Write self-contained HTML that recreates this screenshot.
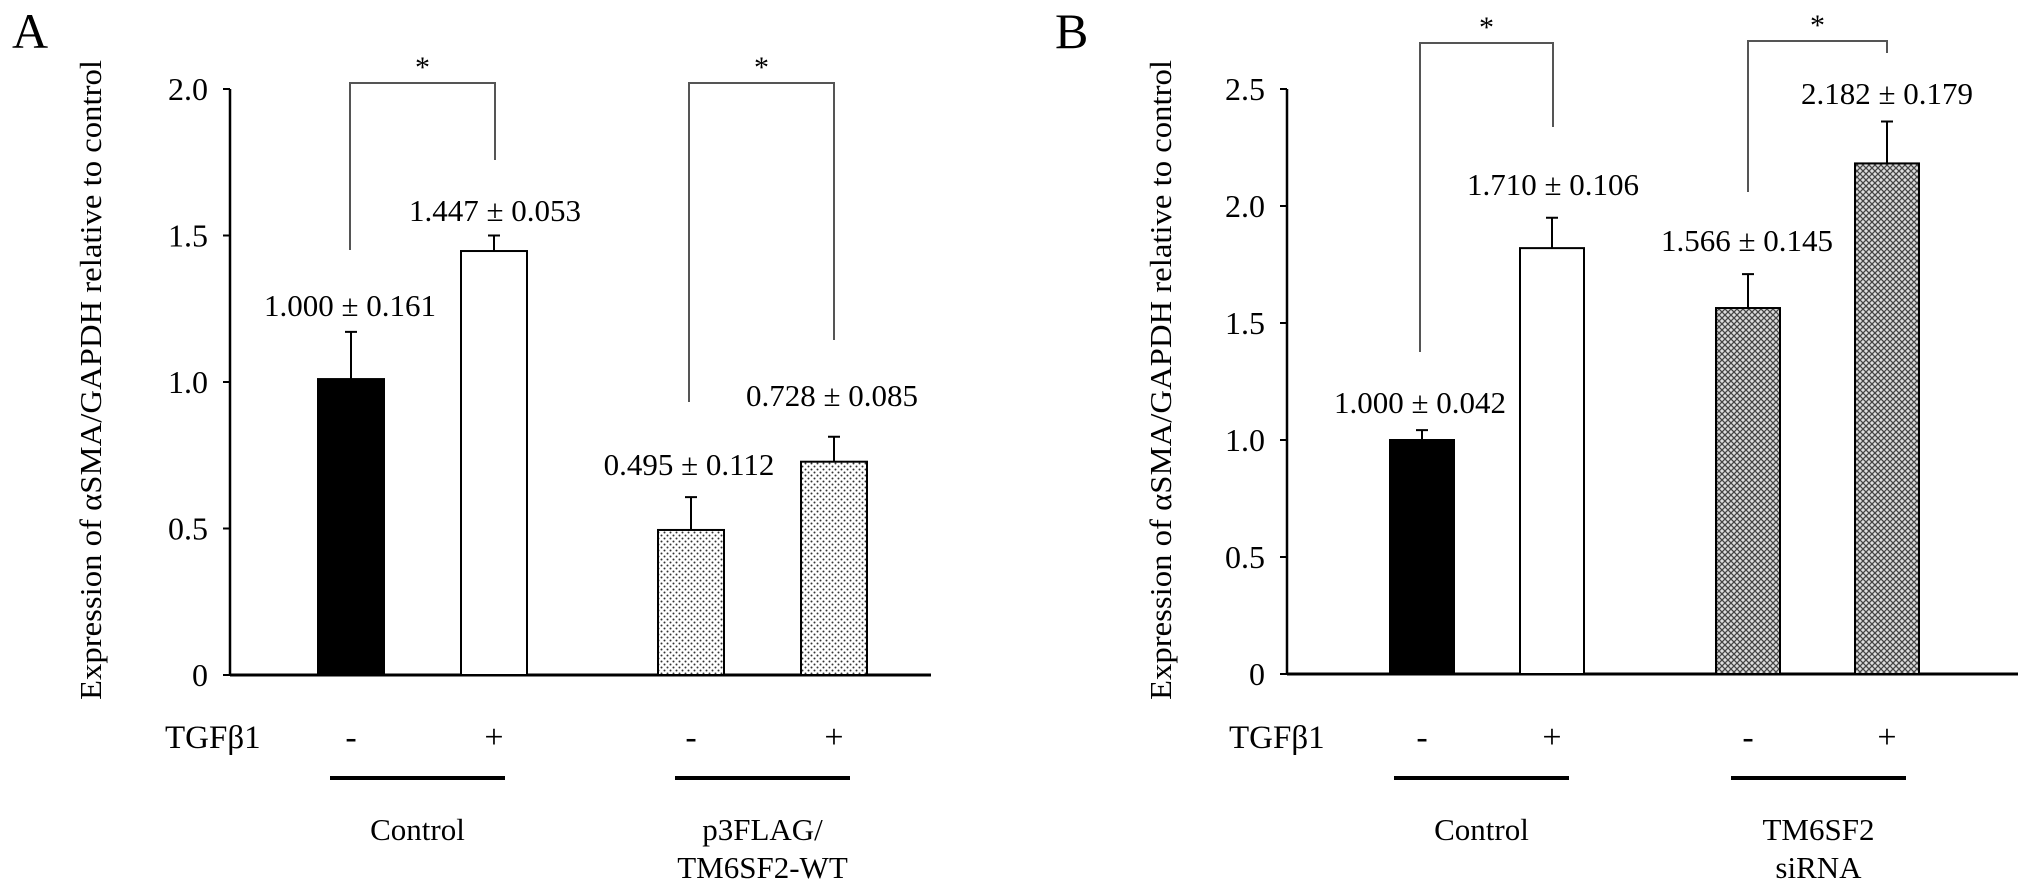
<!DOCTYPE html>
<html><head><meta charset="utf-8"><style>
html,body{margin:0;padding:0;background:#fff;}
svg{display:block;font-family:"Liberation Serif",serif;}
</style></head><body>
<svg id="fig" width="2031" height="893" viewBox="0 0 2031 893" xmlns="http://www.w3.org/2000/svg">
<defs>
<pattern id="dots" width="6" height="6" patternUnits="userSpaceOnUse"><rect width="6" height="6" fill="#fff"/><circle cx="1.5" cy="1.5" r="1" fill="#333"/><circle cx="4.5" cy="4.5" r="1" fill="#333"/></pattern>
<pattern id="hatch" width="6" height="6" patternUnits="userSpaceOnUse"><rect width="6" height="6" fill="#ddd"/><path d="M0,0 L6,6 M6,0 L0,6" stroke="#444" stroke-width="1.3"/></pattern>
</defs>
<g id="panelA"></g>
<g id="panelB"></g>
</svg>
<script>
const NS="http://www.w3.org/2000/svg";
// Panel A data
const aTicks=[0,0.5,1.0,1.5,2.0];
const aTickLabels=["0","0.5","1.0","1.5","2.0"];
const aValues=[1.01,1.447,0.495,0.728];
const aErrors=[0.161,0.053,0.112,0.085];
const aLabels=["1.000 \u00b1 0.161","1.447 \u00b1 0.053","0.495 \u00b1 0.112","0.728 \u00b1 0.085"];
const aSigns=["-","+","-","+"];
// Panel B data
const bTicks=[0,0.5,1.0,1.5,2.0,2.5];
const bTickLabels=["0","0.5","1.0","1.5","2.0","2.5"];
const bValues=[1.0,1.82,1.564,2.182];
const bErrors=[0.042,0.13,0.145,0.179];
const bLabels=["1.000 \u00b1 0.042","1.710 \u00b1 0.106","1.566 \u00b1 0.145","2.182 \u00b1 0.179"];
const bSigns=["-","+","-","+"];

function el(parent,tag,attrs,text){const e=document.createElementNS(NS,tag);for(const k in attrs)e.setAttribute(k,attrs[k]);if(text!==undefined)e.textContent=text;parent.appendChild(e);return e;}

function panel(g,cfg){
  const y=v=>cfg.y0-v*cfg.ppu;
  let t=el(g,"text",{x:cfg.letterX,y:48,"font-size":50});t.textContent=cfg.letter;
  
  
  t=el(g,"text",{transform:`translate(${cfg.titleX},380) rotate(-90)`,"text-anchor":"middle","font-size":31,textLength:640,lengthAdjust:"spacingAndGlyphs"},"Expression of \u03b1SMA/GAPDH relative to control");
  
  
  let ax=el(g,"line",{x1:cfg.axisX,y1:y(cfg.ticks[cfg.ticks.length-1]),x2:cfg.axisX,y2:cfg.y0,stroke:"#000","stroke-width":2.5});
  
  
  ax=el(g,"line",{x1:cfg.axisX,y1:cfg.y0,x2:cfg.axisEnd,y2:cfg.y0,stroke:"#000","stroke-width":3});
  
  
  cfg.ticks.forEach((v,i)=>{
    const tk=el(g,"line",{x1:cfg.axisX-7,y1:y(v),x2:cfg.axisX,y2:y(v),stroke:"#000","stroke-width":2});
    
    
    const tl=el(g,"text",{x:cfg.axisX-22,y:y(v)+11,"text-anchor":"end","font-size":32},cfg.tickLabels[i]);
    
    
  });
  cfg.values.forEach((v,i)=>{
    const x0=cfg.barX[i],w=cfg.barW;
    const r=el(g,"rect",{x:x0,y:y(v),width:w,height:cfg.y0-y(v),fill:cfg.fills[i],stroke:"#000","stroke-width":2});
    
    
    const cx=x0+w/2,top=y(v+cfg.errors[i]);
    const e=el(g,"path",{d:`M${cx},${y(v)} L${cx},${top} M${cx-6},${top} L${cx+6},${top}`,stroke:"#000","stroke-width":2,fill:"none"});
    
    
    const lb=el(g,"text",{x:cfg.labelX[i],y:cfg.labelY[i]+11,"text-anchor":"middle","font-size":31,"xml:space":"preserve"},cfg.labels[i]);
    
    
    const sg=el(g,"text",{x:cx,y:748,"text-anchor":"middle","font-size":34},cfg.signs[i]);
    
    
  });
  t=el(g,"text",{x:cfg.tgfX,y:748,"font-size":33},"TGF\u03b21");
  
  
  cfg.brackets.forEach((b,i)=>{
    const p=el(g,"path",{d:`M${b[0]},${b[2]} L${b[0]},${b[4]} L${b[1]},${b[4]} L${b[1]},${b[3]}`,stroke:"#555","stroke-width":2,fill:"none"});
    
    
    const s=el(g,"text",{x:(b[0]+b[1])/2,y:b[4]-6,"text-anchor":"middle","font-size":30},"*");
    
    
  });
  cfg.groups.forEach((gr,i)=>{
    const l=el(g,"line",{x1:gr.x1,y1:778,x2:gr.x2,y2:778,stroke:"#000","stroke-width":4});
    
    
    gr.lines.forEach((s,j)=>{
      const tx=el(g,"text",{x:(gr.x1+gr.x2)/2,y:840+j*38,"text-anchor":"middle","font-size":31},s);
      
      
    });
  });
}
panel(document.getElementById("panelA"),{letter:"A",letterX:12,titleX:101,axisX:230,axisEnd:931,y0:675,ppu:293,
 ticks:aTicks,tickLabels:aTickLabels,values:aValues,errors:aErrors,labels:aLabels,signs:aSigns,
 barX:[318,461,658,801],barW:66,fills:["#000","#fff","url(#dots)","url(#dots)"],
 labelX:[350,495,689,832],labelY:[305,210,464,395],tgfX:165,
 brackets:[[350,495,250,160,83],[689,834,402,340,83]],
 groups:[{x1:330,x2:505,lines:["Control"]},{x1:675,x2:850,lines:["p3FLAG/","TM6SF2-WT"]}]});
panel(document.getElementById("panelB"),{letter:"B",letterX:1055,titleX:1171,axisX:1287,axisEnd:2018,y0:674,ppu:234,
 ticks:bTicks,tickLabels:bTickLabels,values:bValues,errors:bErrors,labels:bLabels,signs:bSigns,
 barX:[1390,1520,1716,1855],barW:64,fills:["#000","#fff","url(#hatch)","url(#hatch)"],
 labelX:[1420,1553,1747,1887],labelY:[402,184,240,93],tgfX:1229,
 brackets:[[1420,1553,352,127,43],[1748,1887,192,53,41]],
 groups:[{x1:1394,x2:1569,lines:["Control"]},{x1:1731,x2:1906,lines:["TM6SF2","siRNA"]}]});
</script>
</body></html>
